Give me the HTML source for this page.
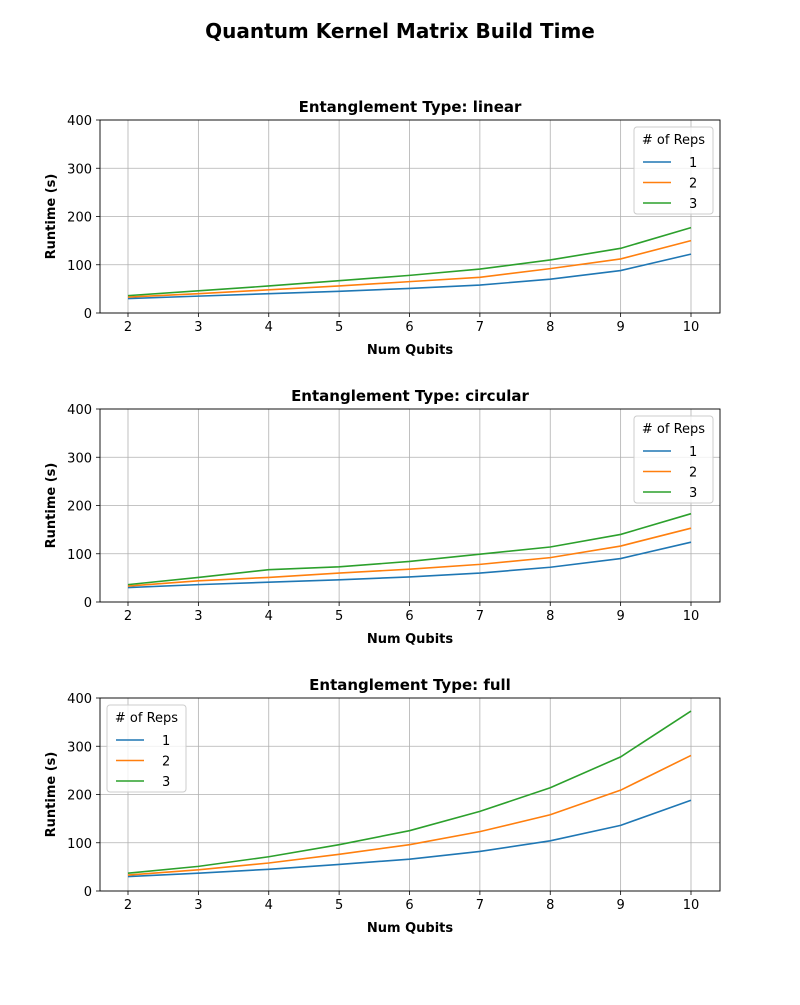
<!DOCTYPE html>
<html><head><meta charset="utf-8"><style>
body{margin:0;background:#fff;font-family:"Liberation Sans","DejaVu Sans",sans-serif}
svg text{font-family:"DejaVu Sans","Liberation Sans",sans-serif}
</style></head><body>
<svg id="c" width="800" height="1000">
<rect width="800" height="1000" fill="#fff"/>
<text x="400" y="38" text-anchor="middle" font-size="20" font-weight="bold">Quantum Kernel Matrix Build Time</text>
</svg>
<script>
const qubits=[2,3,4,5,6,7,8,9,10];
const yTicks=[0,100,200,300,400];
const repLabels=["1","2","3"];
const colors=["#1f77b4","#ff7f0e","#2ca02c"];
const titles=["linear","circular","full"];
const linear1=[30,35,40,45,51,58,70,88,122];
const linear2=[33,40,48,56,65,74,92,112,150];
const linear3=[36,46,56,67,78,91,110,134,177];
const circular1=[30,36,41,46,52,60,72,90,124];
const circular2=[33,44,51,60,68,78,92,116,153];
const circular3=[36,51,67,73,84,99,114,140,183];
const full1=[30,37,45,55,66,82,104,136,188];
const full2=[33,44,58,76,96,123,158,209,281];
const full3=[37,51,71,96,125,165,214,278,373];
const allData=[[linear1,linear2,linear3],[circular1,circular2,circular3],[full1,full2,full3]];
const svg=document.getElementById('c');
const NS='http://www.w3.org/2000/svg';
function mk(t,a,p){const e=document.createElementNS(NS,t);for(const k in a)e.setAttribute(k,a[k]);(p||svg).appendChild(e);return e;}
const L=100,R=720,tops=[120,409,698],H=193;
allData.forEach((series,pi)=>{
  const T=tops[pi],B=T+H;
  const g=mk('g',{});
  
  
  const xs=v=>128+(v-2)*(691-128)/8;
  const ys=v=>B-v*H/400;
  qubits.forEach(q=>{
    mk('line',{x1:xs(q),x2:xs(q),y1:T,y2:B,stroke:'#b0b0b0','stroke-width':0.8},g);
    mk('line',{x1:xs(q),x2:xs(q),y1:B,y2:B+4,stroke:'#000','stroke-width':0.8},g);
    const t=mk('text',{x:xs(q),y:B+18,'text-anchor':'middle','font-size':13},g);t.textContent=q;
    
    
  });
  yTicks.forEach(v=>{
    mk('line',{x1:L,x2:R,y1:ys(v),y2:ys(v),stroke:'#b0b0b0','stroke-width':0.8},g);
    mk('line',{x1:L-4,x2:L,y1:ys(v),y2:ys(v),stroke:'#000','stroke-width':0.8},g);
    const t=mk('text',{x:L-8,y:ys(v)+5,'text-anchor':'end','font-size':13},g);t.textContent=v;
    
    
  });
  series.forEach((s,si)=>{
    const p=mk('polyline',{points:s.map((v,i)=>xs(qubits[i])+','+ys(v)).join(' '),fill:'none',stroke:colors[si],'stroke-width':1.6},g);
    
    
  });
  mk('rect',{x:L,y:T,width:R-L,height:H,fill:'none',stroke:'#000','stroke-width':0.9},g);
  const tt=mk('text',{x:(L+R)/2,y:T-8,'text-anchor':'middle','font-size':15,'font-weight':'bold'},g);
  tt.textContent='Entanglement Type: '+titles[pi];
  
  
  const xl=mk('text',{x:(L+R)/2,y:B+41,'text-anchor':'middle','font-size':13,'font-weight':'bold'},g);
  xl.textContent='Num Qubits';
  
  
  const yl=mk('text',{x:55,y:T+H/2,'text-anchor':'middle','font-size':13,'font-weight':'bold',transform:`rotate(-90 55 ${T+H/2})`},g);
  yl.textContent='Runtime (s)';
  
  
  const lx=pi==2?107:634, ly=T+7;
  const lg=mk('g',{},g);
  
  
  mk('rect',{x:lx,y:ly,width:79,height:87,rx:3,fill:'#fff','fill-opacity':0.8,stroke:'#ccc'},lg);
  const lt=mk('text',{x:lx+39.5,y:ly+17,'text-anchor':'middle','font-size':13},lg);lt.textContent='# of Reps';
  repLabels.forEach((r,i)=>{
    const yy=ly+35+i*20.5;
    mk('line',{x1:lx+9,x2:lx+37,y1:yy,y2:yy,stroke:colors[i],'stroke-width':1.6},lg);
    const t=mk('text',{x:lx+55,y:yy+5,'font-size':13},lg);t.textContent=r;
    
    
  });
});
</script>
</body></html>
